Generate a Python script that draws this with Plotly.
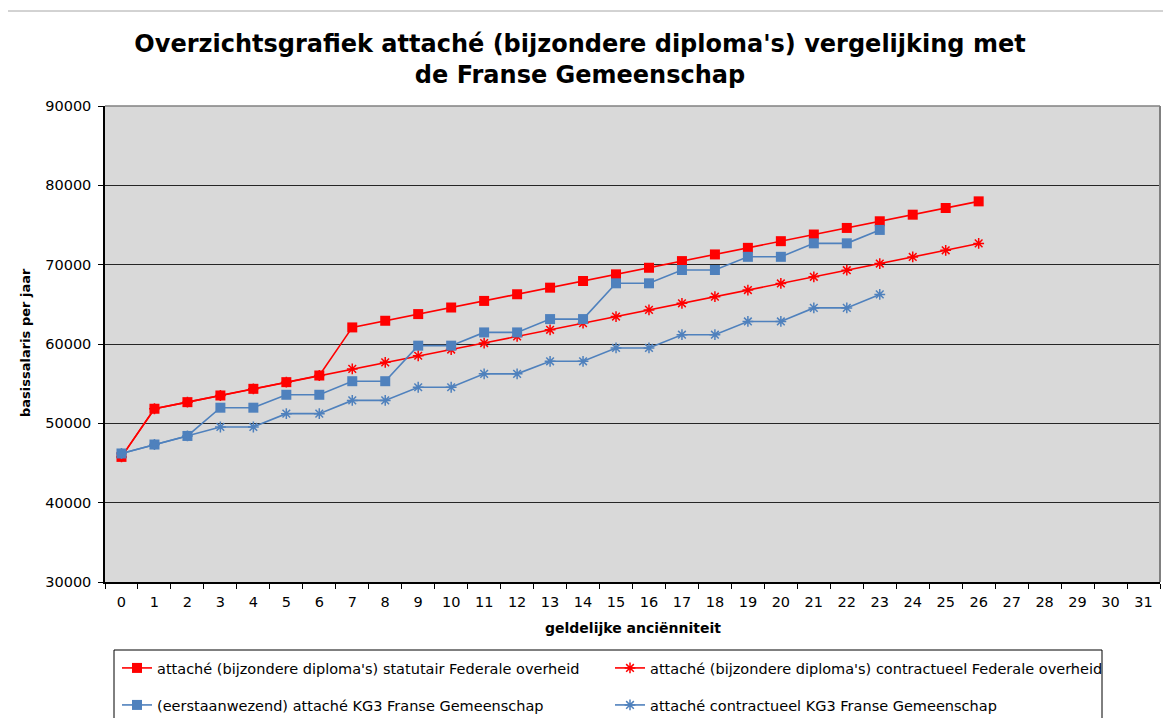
"""Overzichtsgrafiek attaché: Federale overheid vs Franse Gemeenschap."""

import plotly.graph_objects as go

# ─── Data ─────────────────────────────────────────────────────────────────── #

anciënniteit = [str(i) for i in range(32)]

statutair_federaal = [45770, 51840, 52670, 53510, 54350, 55190, 56030, 62090, 62930,
                      63770, 64600, 65430, 66270, 67100, 67940, 68780, 69610, 70450,
                      71290, 72120, 72960, 73800, 74630, 75470, 76300, 77140, 77980]
contractueel_federaal = [45770, 51840, 52670, 53510, 54350, 55190, 56030, 56860, 57690,
                         58520, 59300, 60120, 60950, 61790, 62620, 63460, 64300, 65130,
                         65960, 66800, 67630, 68470, 69300, 70140, 70970, 71810, 72680]
kg3_statutair = [46200, 47330, 48410, 51970, 51970, 53600, 53600, 55310, 55310, 59790,
                 59790, 61460, 61460, 63140, 63140, 67650, 67650, 69330, 69330, 70990,
                 70990, 72690, 72690, 74380]
kg3_contractueel = [46200, 47330, 48410, 49540, 49540, 51220, 51220, 52890, 52890, 54550,
                    54550, 56240, 56240, 57820, 57820, 59500, 59500, 61170, 61170, 62840,
                    62840, 64550, 64550, 66250]

series = [
    ("attaché (bijzondere diploma's) statutair Federale overheid", statutair_federaal,
     "#FF0000", "square", "legend"),
    ("attaché (bijzondere diploma's) contractueel Federale overheid", contractueel_federaal,
     "#FF0000", "asterisk-open", "legend"),
    ("(eerstaanwezend) attaché KG3 Franse Gemeenschap", kg3_statutair,
     "#4F81BD", "square", "legend2"),
    ("attaché contractueel KG3 Franse Gemeenschap", kg3_contractueel,
     "#4F81BD", "asterisk-open", "legend2"),
]

FONT = "DejaVu Sans, Verdana, sans-serif"

# the page body has an 8px margin, so the figure is shrunk by that much
PAGE_OFF = 8
W, H = 1171 - PAGE_OFF, 718 - PAGE_OFF

# plot area in window pixels (used to place frame / legend box)
L, R, T, B = 105, 1160, 106, 582
PW, PH = R - L, B - T


def px_x(x):
    return (x - L) / PW


def px_y(y):
    return (B - y) / PH


fig = go.Figure()

for name, values, color, symbol, legend in series:
    is_star = symbol.startswith("asterisk")
    fig.add_trace(
        go.Scatter(
            x=anciënniteit[: len(values)],
            y=values,
            mode="lines+markers",
            name=name,
            legend=legend,
            line=dict(color=color, width=1.6),
            marker=dict(
                symbol=symbol,
                size=10 if not is_star else 9,
                color=color,
                line=dict(color=color, width=1.5 if is_star else 0),
            ),
        )
    )

# chart frame (grey, top + left) and legend box
shapes = [
    dict(type="line", xref="paper", yref="paper", x0=px_x(7), x1=px_x(1200),
         y0=px_y(11), y1=px_y(11), line=dict(color="#A6A6A6", width=1)),
    dict(type="line", xref="paper", yref="paper", x0=px_x(7), x1=px_x(7),
         y0=px_y(11), y1=px_y(760), line=dict(color="#A6A6A6", width=1)),
    dict(type="rect", xref="paper", yref="paper", x0=px_x(114), x1=px_x(1102),
         y0=px_y(760), y1=px_y(650), line=dict(color="black", width=1)),
    # grey top / right border of plot area
    dict(type="line", xref="paper", yref="paper", x0=0, x1=1, y0=1, y1=1,
         line=dict(color="#808080", width=1.5)),
    dict(type="line", xref="paper", yref="paper", x0=1, x1=1, y0=0, y1=1,
         line=dict(color="#808080", width=2)),
]

legend_style = dict(
    orientation="h",
    x=px_x(117),
    xanchor="left",
    yanchor="middle",
    entrywidth=448,
    entrywidthmode="pixels",
    font=dict(family=FONT, size=14.5),
    bgcolor="rgba(0,0,0,0)",
    itemclick=False,
)

fig.update_layout(
    width=W,
    height=H,
    paper_bgcolor="white",
    plot_bgcolor="#D9D9D9",
    font=dict(family=FONT, color="black", size=14),
    margin=dict(l=L - PAGE_OFF, r=W - (R - PAGE_OFF), t=T - PAGE_OFF,
                b=H - (B - PAGE_OFF), autoexpand=False),
    title=dict(
        text="Overzichtsgrafiek attaché (bijzondere diploma's) vergelijking met<br>de Franse Gemeenschap",
        font=dict(family=FONT, size=24, color="black", weight="bold"),
        x=(580 - PAGE_OFF) / W,
        xanchor="center",
        xref="container",
        y=1 - (52 - PAGE_OFF) / H,
        yanchor="middle",
        yref="container",
    ),
    xaxis=dict(
        type="category",
        categoryorder="array",
        categoryarray=anciënniteit,
        tickson="boundaries",
        ticks="outside",
        ticklen=5,
        tickcolor="black",
        showline=True,
        linecolor="black",
        linewidth=1.5,
        showgrid=False,
        tickfont=dict(size=14.5),
        ticklabelstandoff=6,
        range=[-0.5, 31.5],
    ),
    yaxis=dict(
        range=[30000, 90000],
        dtick=10000,
        ticks="outside",
        ticklen=5,
        tickcolor="black",
        showline=True,
        linecolor="black",
        linewidth=1.5,
        showgrid=True,
        gridcolor="#262626",
        gridwidth=1,
        zeroline=False,
        tickfont=dict(size=14.5),
        ticklabelstandoff=4,
        tickformat="d",
    ),
    legend=dict(legend_style, y=px_y(668)),
    legend2=dict(legend_style, y=px_y(705)),
    shapes=shapes,
    annotations=[
        dict(text="basissalaris per jaar", xref="paper", yref="paper",
             x=px_x(25), y=px_y(343), xanchor="center", yanchor="middle",
             textangle=-90, showarrow=False,
             font=dict(family=FONT, size=13, weight="bold")),
        dict(text="geldelijke anciënniteit", xref="paper", yref="paper",
             x=px_x(633), y=px_y(628), xanchor="center", yanchor="middle",
             showarrow=False,
             font=dict(family=FONT, size=14, weight="bold")),
    ],
)

fig.write_html("out.html")
